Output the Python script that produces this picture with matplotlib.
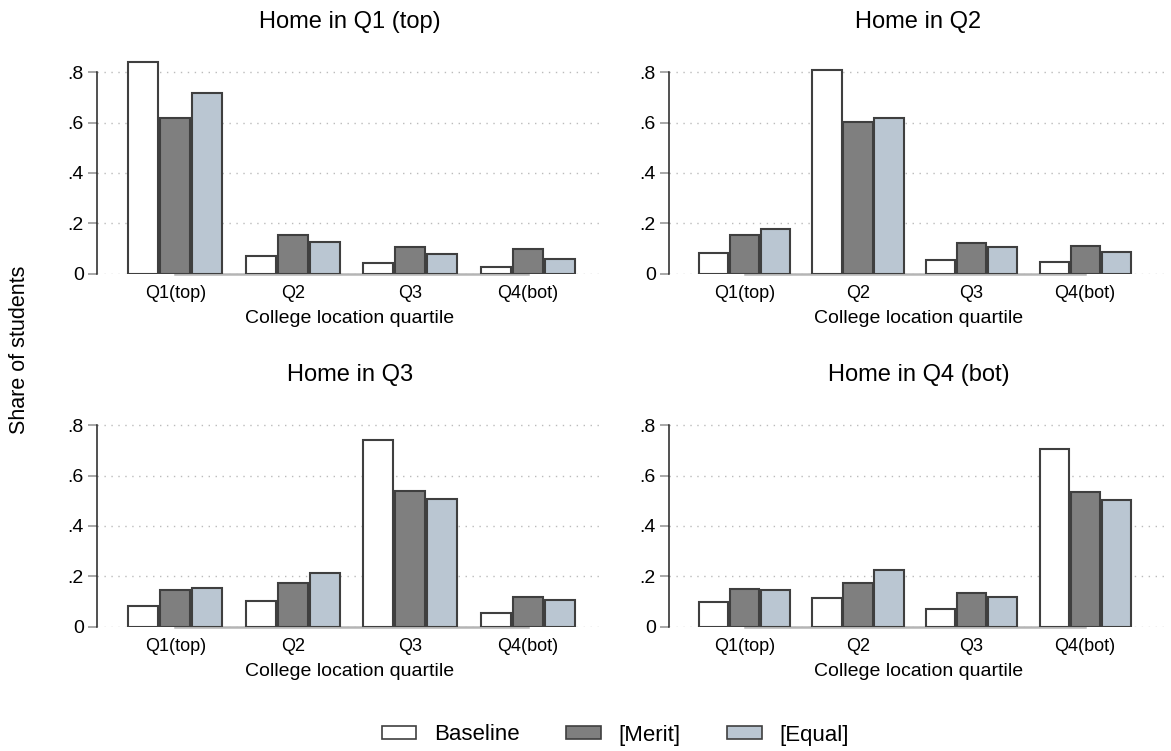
import matplotlib
matplotlib.use("Agg")
import matplotlib.pyplot as plt
import numpy as np
from matplotlib.patches import Patch

plt.rcParams['font.family'] = ['Liberation Sans', 'DejaVu Sans']

categories = ["Q1(top)", "Q2", "Q3", "Q4(bot)"]
panel_titles = ["Home in Q1 (top)", "Home in Q2", "Home in Q3", "Home in Q4 (bot)"]
series_names = ["Baseline", "[Merit]", "[Equal]"]

# values per panel: [baseline, merit, equal] per college quartile
home_q1_baseline = [0.842, 0.068, 0.040, 0.026]
home_q1_merit    = [0.618, 0.155, 0.106, 0.099]
home_q1_equal    = [0.719, 0.126, 0.076, 0.056]

home_q2_baseline = [0.081, 0.808, 0.052, 0.044]
home_q2_merit    = [0.153, 0.602, 0.122, 0.109]
home_q2_equal    = [0.177, 0.620, 0.104, 0.085]

home_q3_baseline = [0.081, 0.101, 0.742, 0.053]
home_q3_merit    = [0.146, 0.172, 0.540, 0.118]
home_q3_equal    = [0.154, 0.211, 0.507, 0.105]

home_q4_baseline = [0.098, 0.112, 0.071, 0.706]
home_q4_merit    = [0.149, 0.175, 0.132, 0.534]
home_q4_equal    = [0.146, 0.223, 0.116, 0.504]

yticks = [0, 0.2, 0.4, 0.6, 0.8]
ytick_labels = ["0", ".2", ".4", ".6", ".8"]

panels = [
    (home_q1_baseline, home_q1_merit, home_q1_equal),
    (home_q2_baseline, home_q2_merit, home_q2_equal),
    (home_q3_baseline, home_q3_merit, home_q3_equal),
    (home_q4_baseline, home_q4_merit, home_q4_equal),
]

colors = ["#ffffff", "#7f7f7f", "#bac6d2"]
edge = "#3f3f3f"

W, H = 1171, 751
fig = plt.figure(figsize=(W / 100, H / 100), dpi=100)

def rect(x0, x1, y_zero, h):
    return [x0 / W, 1 - y_zero / H, (x1 - x0) / W, h / H]

ax_h = 213.6
positions = [
    rect(97, 603, 273.5, ax_h),
    rect(669, 1168, 273.5, ax_h),
    rect(97, 603, 626.5, ax_h),
    rect(669, 1168, 626.5, ax_h),
]
xlims = [(-0.666, 3.64), (-0.665, 3.73), (-0.666, 3.64), (-0.665, 3.73)]

width = 0.257
offset = 0.273
x = np.arange(len(categories))

for i, (vals, pos) in enumerate(zip(panels, positions)):
    ax = fig.add_axes(pos)
    for j, v in enumerate(vals):
        ax.bar(x + (j - 1) * offset, v, width, color=colors[j], edgecolor=edge,
               linewidth=1.5, zorder=3)
    ax.set_xlim(*xlims[i])
    ax.set_ylim(0, 0.85)
    ax.set_yticks(yticks)
    ax.set_yticklabels(ytick_labels)
    ax.set_xticks(x)
    ax.set_xticklabels(categories)
    ax.tick_params(axis='x', length=0, pad=8, labelsize=13)
    ax.tick_params(axis='y', length=6.5, width=1.2, color="#999999", pad=3,
                   labelsize=14)
    ax.yaxis.grid(True, linestyle=(0, (1, 4)), color="#bbbbbb", linewidth=1.0, zorder=0)
    ax.set_axisbelow(True)
    for s in ["top", "right"]:
        ax.spines[s].set_visible(False)
    ax.spines["left"].set_color("#222222")
    ax.spines["left"].set_linewidth(1.1)
    ax.spines["left"].set_bounds(0, 0.8)
    ax.spines["bottom"].set_color("#b5b5b5")
    ax.spines["bottom"].set_linewidth(1.8)
    ax.spines["bottom"].set_bounds(0, len(categories) - 1)
    ax.spines["bottom"].set_zorder(2)
    ax.set_xlabel("College location quartile", fontsize=14, labelpad=6)
    ax.set_title(panel_titles[i], fontsize=17, pad=23)

fig.text(20 / W, 1 - 350 / H, "Share of students", rotation=90, fontsize=15.5,
         ha='center', va='center')

handles = [Patch(facecolor=c, edgecolor=edge, linewidth=1.2) for c in colors]
fig.legend(handles, series_names, loc='center',
           bbox_to_anchor=(0.5 + 30 / W, 1 - 735 / H),
           ncol=3, frameon=False, fontsize=16, handlelength=1.55, handleheight=0.5,
           handletextpad=0.8, columnspacing=2.1)

fig.savefig("out.png", dpi=100)
